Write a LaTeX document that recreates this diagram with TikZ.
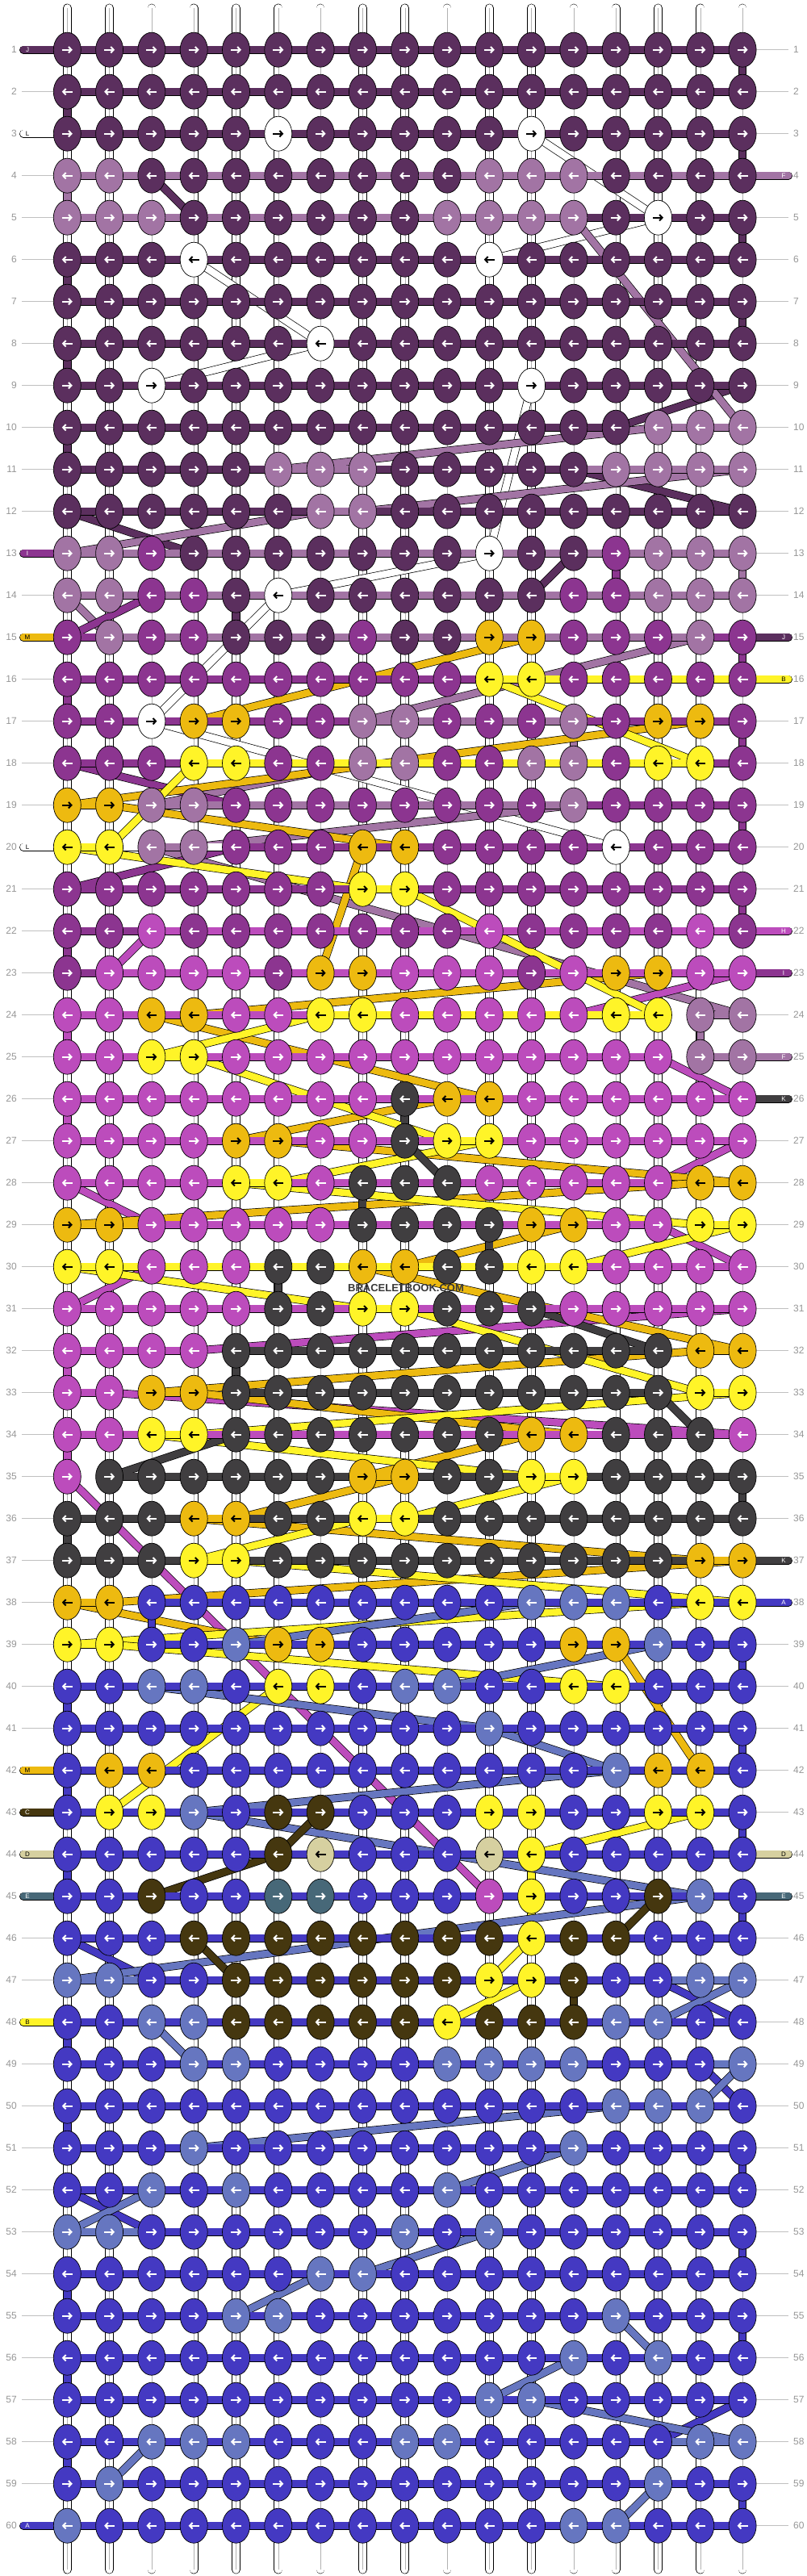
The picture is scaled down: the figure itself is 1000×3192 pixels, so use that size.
\documentclass[tikz,border=0pt]{standalone}
\usepackage{fontspec}
\setmainfont{Liberation Sans}
\usetikzlibrary{shapes.geometric, arrows.meta}
% knot colours
\definecolor{kP}{RGB}{91,47,94}
\definecolor{kM}{RGB}{162,116,164}
\definecolor{kV}{RGB}{140,53,144}
\definecolor{kO}{RGB}{188,76,188}
\definecolor{kG}{RGB}{237,186,16}
\definecolor{kY}{RGB}{255,244,40}
\definecolor{kK}{RGB}{64,62,64}
\definecolor{kB}{RGB}{68,57,194}
\definecolor{kL}{RGB}{102,118,192}
\definecolor{kN}{RGB}{69,55,15}
\definecolor{kE}{RGB}{214,208,160}
\definecolor{kS}{RGB}{71,104,120}
\definecolor{kW}{RGB}{255,255,255}
\definecolor{numgray}{RGB}{150,150,150}
% arrow colours
\colorlet{aP}{white}\colorlet{aM}{white}\colorlet{aV}{white}\colorlet{aO}{white}
\colorlet{aK}{white}\colorlet{aB}{white}\colorlet{aL}{white}\colorlet{aN}{white}
\colorlet{aS}{white}\colorlet{aG}{black}\colorlet{aY}{black}\colorlet{aE}{black}
\colorlet{aW}{black}

\pgfdeclarelayer{bg}
\pgfdeclarelayer{strands}
\pgfdeclarelayer{bars}
\pgfsetlayers{bg,strands,bars,main}

\begin{document}
\begin{tikzpicture}[x=1pt, y=-1pt,
    knot/.style={ellipse, draw=black, line width=0.7pt, minimum width=34pt, minimum height=43pt, inner sep=0pt},
    knotarrow/.style={line width=2pt, -{Straight Barb[length=3.5pt,width=7.5pt]}},
    strand/.style={draw=black, line width=0.7pt, double distance=8.6pt, line cap=round},
    bar/.style={draw=black, line width=0.7pt, double distance=8.6pt, line cap=round},
    stub/.style={draw=black, line width=0.6pt, double=white, double distance=9.5pt, line cap=round},
    stubline/.style={draw=black!30, line width=0.4pt},
    rowline/.style={draw=numgray!60, line width=1pt},
    rownum/.style={text=numgray, font=\fontsize{12}{12}\selectfont, inner sep=0pt},
    tabletter/.style={font=\fontsize{8}{8}\selectfont, inner sep=0pt},
]
\useasboundingbox (0,0) rectangle (1000,3192);

% knots, one list per row
\foreach \knots [count=\r] in {
  {P,P,P,P,P,P,P,P,P,P,P,P,P,P,P,P,P},
  {P,P,P,P,P,P,P,P,P,P,P,P,P,P,P,P,P},
  {P,P,P,P,P,W,P,P,P,P,P,W,P,P,P,P,P},
  {M,M,P,P,P,P,P,P,P,P,M,M,M,P,P,P,P},
  {M,M,M,P,P,P,P,P,P,M,M,M,M,P,W,P,P},
  {P,P,P,W,P,P,P,P,P,P,W,P,P,P,P,P,P},
  {P,P,P,P,P,P,P,P,P,P,P,P,P,P,P,P,P},
  {P,P,P,P,P,P,W,P,P,P,P,P,P,P,P,P,P},
  {P,P,W,P,P,P,P,P,P,P,P,W,P,P,P,P,P},
  {P,P,P,P,P,P,P,P,P,P,P,P,P,P,M,M,M},
  {P,P,P,P,P,M,M,M,P,P,P,P,P,M,M,M,M},
  {P,P,P,P,P,P,M,M,P,P,P,P,P,P,P,P,P},
  {M,M,V,P,P,P,P,P,P,P,W,P,P,V,M,M,M},
  {M,M,V,V,P,W,P,P,P,P,P,P,V,V,M,M,M},
  {V,M,V,V,P,P,P,V,P,P,G,G,V,V,V,M,V},
  {V,V,V,V,V,V,V,V,V,V,Y,Y,V,V,V,V,V},
  {V,V,W,G,G,V,V,M,M,V,V,V,M,V,G,G,V},
  {V,V,V,Y,Y,V,V,M,M,V,V,M,M,V,Y,Y,V},
  {G,G,M,M,V,V,V,V,V,V,V,V,M,V,V,V,V},
  {Y,Y,M,M,V,V,V,G,G,V,V,V,V,W,V,V,V},
  {V,V,V,V,V,V,V,Y,Y,V,V,V,V,V,V,V,V},
  {V,V,O,V,V,V,V,V,V,V,O,V,V,V,V,O,V},
  {V,O,O,O,O,V,G,G,O,O,O,V,O,G,G,O,O},
  {O,O,G,G,O,O,Y,Y,O,O,O,O,O,Y,Y,M,M},
  {O,O,Y,Y,O,O,O,O,O,O,O,O,O,O,O,M,M},
  {O,O,O,O,O,O,O,O,K,G,G,O,O,O,O,O,O},
  {O,O,O,O,G,G,O,O,K,Y,Y,O,O,O,O,O,O},
  {O,O,O,O,Y,Y,O,K,K,K,O,O,O,O,O,G,G},
  {G,G,O,O,O,O,O,K,K,K,K,G,G,O,O,Y,Y},
  {Y,Y,O,O,O,K,K,G,G,K,K,Y,Y,O,O,O,O},
  {O,O,O,O,O,K,K,Y,Y,K,K,K,O,O,O,O,O},
  {O,O,O,O,K,K,K,K,K,K,K,K,K,K,K,G,G},
  {O,O,G,G,K,K,K,K,K,K,K,K,K,K,K,Y,Y},
  {O,O,Y,Y,K,K,K,K,K,K,K,G,G,K,K,K,O},
  {O,K,K,K,K,K,K,G,G,K,K,Y,Y,K,K,K,K},
  {K,K,K,G,G,K,K,Y,Y,K,K,K,K,K,K,K,K},
  {K,K,K,Y,Y,K,K,K,K,K,K,K,K,K,K,G,G},
  {G,G,B,B,B,B,B,B,B,B,B,L,L,L,B,Y,Y},
  {Y,Y,B,B,L,G,G,B,B,B,B,B,G,G,L,B,B},
  {B,B,L,L,B,Y,Y,B,L,L,B,B,Y,Y,B,B,B},
  {B,B,B,B,B,B,B,B,B,B,L,B,B,B,B,B,B},
  {B,G,G,B,B,B,B,B,B,B,B,B,B,L,G,G,B},
  {B,Y,Y,L,B,N,N,B,B,B,Y,Y,B,B,Y,Y,B},
  {B,B,B,B,B,N,E,B,B,B,E,Y,B,B,B,B,B},
  {B,B,N,B,B,S,S,B,B,B,O,Y,B,B,N,L,B},
  {B,B,B,N,N,N,N,N,N,N,N,Y,N,N,B,B,B},
  {L,L,B,B,N,N,N,N,N,N,Y,Y,N,B,B,L,L},
  {B,B,L,L,N,N,N,N,N,Y,N,N,N,L,L,B,B},
  {B,B,B,L,L,B,B,B,B,L,L,L,L,B,B,B,L},
  {B,B,B,B,B,B,B,B,B,B,B,B,B,L,L,L,B},
  {B,B,B,L,B,B,B,B,B,B,B,B,L,B,B,B,B},
  {B,B,L,B,L,B,B,B,B,L,B,B,B,B,B,B,B},
  {L,L,B,B,B,B,B,B,L,B,L,B,B,B,B,B,B},
  {B,B,B,B,B,B,L,L,B,B,B,B,B,B,B,B,B},
  {B,B,B,B,L,L,B,B,B,B,B,B,B,L,B,B,B},
  {B,B,B,B,B,B,B,B,B,B,B,B,L,B,L,B,B},
  {B,B,B,B,B,B,B,B,B,B,L,L,B,B,B,B,B},
  {B,B,L,L,L,B,B,B,L,L,B,B,B,B,B,L,L},
  {B,L,B,B,B,B,B,B,B,B,B,B,B,B,L,B,B},
  {L,B,B,B,B,B,B,B,B,B,B,B,L,L,B,B,B}%
}{
  \pgfmathsetmacro\yy{61.7+52*(\r-1)}
  \pgfmathsetmacro\dir{ifthenelse(isodd(\r),1,-1)}
  \coordinate (k-\r-0) at (29,\yy);
  \coordinate (k-\r-18) at (977,\yy);
  \coordinate (edgeL-\r) at (27,\yy);
  \coordinate (edgeR-\r) at (977,\yy);
  \foreach \c [count=\col] in \knots {
    \pgfmathsetmacro\xx{83.3+52.3*(\col-1)}
    \pgfmathsetmacro\xa{\xx-6.5*\dir}
    \pgfmathsetmacro\xb{\xx+6.5*\dir}
    \node[knot, fill=k\c] (k-\r-\col) at (\xx,\yy) {};
    \draw[knotarrow, draw=a\c] (\xa,\yy) -- (\xb,\yy);
  }
}

% vertical strings, row lines and row numbers
\begin{pgfonlayer}{bg}
  \foreach \col in {1,...,17} {
    \pgfmathsetmacro\xx{83.3+52.3*(\col-1)}
    \coordinate (top-\col) at (\xx,10);
    \coordinate (bot-\col) at (\xx,3184);
    \draw[stub] (top-\col) -- (bot-\col);
    \draw[stubline] (top-\col) -- (bot-\col);
  }
  \foreach \r in {1,...,60} {
    \draw[rowline] (edgeL-\r) -- (k-\r-1.center);
    \draw[rowline] (k-\r-17.center) -- (edgeR-\r);
    \node[rownum, anchor=east] (numL-\r) at ([xshift=-6pt]edgeL-\r) {\r};
    \node[rownum, anchor=west] (numR-\r) at ([xshift=6pt]edgeR-\r) {\r};
  }
\end{pgfonlayer}

% strings travelling between rows
\begin{pgfonlayer}{strands}
  \foreach \ra/\ca/\rb/\cb/\cc in {
    1/17/2/17/P, 2/1/3/1/P, 3/17/4/17/P, 4/3/5/4/P, 5/17/6/17/P, 6/1/7/1/P, 7/17/8/17/P,
    8/1/9/1/P, 9/17/10/14/P, 10/1/11/1/P, 11/13/12/17/P, 12/1/13/4/P, 13/13/14/12/P, 14/5/15/5/P,
    3/12/5/15/W, 5/15/6/11/W, 6/4/8/7/W, 8/7/9/3/W, 9/12/13/11/W, 13/11/14/6/W, 14/6/17/3/W, 17/3/20/14/W,
    4/1/5/1/M, 5/13/10/17/M, 10/15/11/6/M, 11/17/12/8/M, 12/7/13/1/M, 13/17/14/17/M, 14/1/15/2/M,
    15/16/17/8/M, 17/13/18/13/M, 18/8/19/3/M, 19/13/20/4/M, 20/3/24/17/M, 24/16/25/16/M,
    13/14/14/14/V, 14/3/15/1/V, 15/17/16/17/V, 16/1/17/1/V, 17/17/18/17/V, 18/1/19/5/V,
    19/17/20/17/V, 20/5/21/1/V, 21/17/22/17/V, 22/1/23/1/V,
    22/3/23/2/O, 23/17/24/13/O, 24/1/25/1/O, 25/15/26/17/O, 26/1/27/1/O, 27/17/28/15/O, 28/1/29/3/O,
    29/15/30/17/O, 30/3/31/1/O, 31/17/32/4/O, 32/1/33/1/O, 33/2/34/17/O, 34/1/35/1/O, 35/1/45/11/O,
    15/12/17/4/G, 17/16/19/1/G, 19/2/20/9/G, 20/8/23/7/G, 23/15/24/4/G, 24/3/26/11/G, 26/10/27/5/G,
    27/6/28/17/G, 28/16/29/1/G, 29/13/30/9/G, 30/8/32/17/G, 32/16/33/3/G, 33/4/34/13/G, 34/12/35/8/G,
    35/9/36/5/G, 36/4/37/16/G, 37/17/38/2/G, 38/1/39/6/G, 39/14/42/16/G,
    16/11/18/16/Y, 18/4/20/2/Y, 20/1/21/8/Y, 21/9/24/15/Y, 24/7/25/3/Y, 25/4/27/10/Y, 27/11/28/6/Y,
    28/5/29/16/Y, 29/17/30/13/Y, 30/1/31/8/Y, 31/9/33/16/Y, 33/17/34/4/Y, 34/3/35/12/Y, 35/13/36/9/Y,
    36/8/37/4/Y, 37/5/38/17/Y, 38/16/39/1/Y, 39/2/40/14/Y, 40/6/43/2/Y, 43/16/44/12/Y, 44/12/45/12/Y,
    45/12/46/12/Y, 46/12/47/11/Y, 47/12/48/10/Y,
    26/9/27/9/K, 27/9/28/10/K, 28/8/29/8/K, 29/11/30/11/K, 30/6/31/6/K, 31/12/32/15/K, 32/5/33/5/K,
    33/15/34/16/K, 34/5/35/2/K, 35/17/36/17/K, 36/1/37/1/K,
    38/3/39/3/B, 39/17/40/17/B, 40/1/41/1/B, 41/17/42/17/B, 42/1/43/1/B, 43/17/44/17/B, 44/1/45/1/B,
    45/17/46/17/B, 46/1/47/3/B, 47/15/48/17/B, 48/1/49/1/B, 49/16/50/17/B, 50/1/51/1/B, 51/17/52/17/B,
    52/1/53/3/B, 53/17/54/17/B, 54/1/55/1/B, 55/17/56/17/B, 56/1/57/1/B, 57/17/58/15/B, 58/1/59/1/B,
    59/17/60/17/B,
    38/12/39/5/L, 39/15/40/10/L, 40/3/41/11/L, 41/11/42/14/L, 42/14/43/4/L, 43/4/45/16/L, 45/16/47/1/L,
    47/17/48/15/L, 48/3/49/4/L, 49/17/50/16/L, 50/14/51/4/L, 51/13/52/10/L, 52/3/53/1/L, 53/11/54/8/L,
    54/7/55/5/L, 55/14/56/15/L, 56/13/57/11/L, 57/12/58/17/L, 58/3/59/2/L, 59/15/60/14/L,
    43/7/44/6/N, 44/6/45/3/N, 45/15/46/14/N, 46/4/47/5/N, 47/13/48/13/N%
  }{
    \draw[strand, double=k\cc] (k-\ra-\ca.center) -- (k-\rb-\cb.center);
  }
\end{pgfonlayer}

% strings running along the rows (0 and 18 are the tabs)
\begin{pgfonlayer}{bars}
  \foreach \r/\ca/\cb/\cc in {
    1/0/17/P, 2/1/17/P, 3/0/1/W, 3/1/17/P, 4/3/17/P, 4/1/18/M, 5/4/17/P, 5/1/13/M,
    6/1/17/P, 7/1/17/P, 8/1/17/P, 9/1/17/P, 10/1/14/P, 10/15/17/M,
    11/6/17/M, 11/1/13/P, 11/6/8/M, 12/1/17/P, 12/7/8/M,
    13/0/14/V, 13/4/13/P, 13/1/17/M, 14/1/17/M,
    15/0/12/G, 15/5/18/P, 15/1/17/V, 15/2/16/M,
    16/1/17/V, 16/11/18/Y, 17/4/16/G, 17/1/17/V, 17/8/13/M,
    18/1/17/V, 18/8/13/M, 18/4/16/Y, 19/1/2/G, 19/5/17/V, 19/3/13/M,
    20/0/14/W, 20/8/9/G, 20/5/17/V, 20/3/4/M, 20/1/2/Y, 21/1/17/V, 21/8/9/Y,
    22/1/17/V, 22/3/18/O, 23/7/15/G, 23/1/18/V, 23/2/17/O,
    24/3/4/G, 24/1/13/O, 24/16/17/M, 24/7/15/Y, 25/1/15/O, 25/3/4/Y, 25/16/18/M,
    26/9/18/K, 26/10/11/G, 26/1/17/O, 27/5/6/G, 27/1/17/O, 27/10/11/Y,
    28/8/10/K, 28/16/17/G, 28/1/15/O, 28/5/6/Y, 29/1/13/G, 29/8/11/K, 29/3/15/O, 29/16/17/Y,
    30/8/9/G, 30/6/11/K, 30/3/17/O, 30/1/13/Y, 31/6/12/K, 31/1/17/O, 31/8/9/Y,
    32/1/4/O, 32/5/15/K, 32/16/17/G, 33/1/2/O, 33/3/4/G, 33/5/15/K, 33/16/17/Y,
    34/12/13/G, 34/5/16/K, 34/1/17/O, 34/3/4/Y, 35/2/17/K, 35/8/9/G, 35/12/13/Y,
    36/1/17/K, 36/4/5/G, 36/8/9/Y, 37/1/18/K, 37/4/5/Y, 37/16/17/G,
    38/1/2/G, 38/16/17/Y, 38/12/14/L, 38/3/18/B, 39/1/2/Y, 39/6/14/G, 39/5/15/L, 39/3/17/B,
    40/6/14/Y, 40/3/10/L, 40/1/17/B, 41/1/17/B, 42/0/16/G, 42/1/17/B,
    43/0/7/N, 43/2/16/Y, 43/1/17/B, 44/0/18/E, 44/1/17/B, 45/0/18/S, 45/3/15/N, 45/1/17/B,
    46/4/14/N, 46/1/17/B, 47/1/17/L, 47/5/13/N, 47/3/15/B,
    48/0/10/Y, 48/3/15/L, 48/5/13/N, 48/1/17/B, 49/1/16/B, 49/16/17/L,
    50/1/17/B, 51/1/17/B, 52/1/17/B, 53/1/3/L, 53/3/17/B,
    54/1/17/B, 55/1/17/B, 56/1/17/B, 57/1/17/B, 58/3/17/L, 58/1/15/B,
    59/1/17/B, 60/0/17/B%
  }{
    \draw[bar, double=k\cc] (k-\r-\ca.center) -- (k-\r-\cb.center);
  }
\end{pgfonlayer}

% tab letters: 0 left, 1 right
\foreach \r/\side/\lt/\tc in {
  1/0/J/white, 3/0/L/black, 4/1/F/white, 13/0/I/white, 15/0/M/black, 15/1/J/white,
  16/1/B/black, 20/0/L/black, 22/1/H/white, 23/1/I/white, 25/1/F/white, 26/1/K/white,
  37/1/K/white, 38/1/A/white, 42/0/M/black, 43/0/C/white, 44/0/D/black, 44/1/D/black,
  45/0/E/white, 45/1/E/white, 48/0/B/black, 60/0/A/white%
}{
  \pgfmathsetmacro\tx{ifthenelse(\side==0,34,971)}
  \node[tabletter, text=\tc] (tab-\r-\side) at ([xshift=\tx pt-29pt]k-\r-0) {\lt};
}

\node[font=\bfseries\fontsize{13}{13}\selectfont, text=black!78, inner sep=1pt] (mark) at (503,1596) {BRACELETBOOK.COM};
\end{tikzpicture}
\end{document}
